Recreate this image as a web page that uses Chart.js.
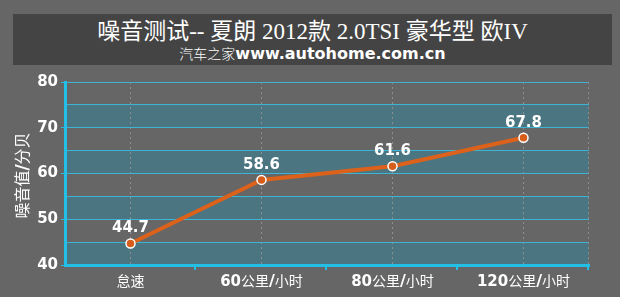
<!DOCTYPE html>
<html>
<head>
<meta charset="utf-8">
<script src="https://cdn.jsdelivr.net/npm/chart.js@4"></script>
<style>
  html, body { margin: 0; padding: 0; background: #666666; }
  #wrap { position: relative; width: 620px; height: 297px; }
  #head {
    position: absolute; left: 13px; top: 14px; width: 599px; height: 51px;
    background: #444444; color: #fff; text-align: center;
  }
  #head .t {
    font-family: "Liberation Serif", "Noto Sans CJK SC", serif;
    font-size: 23px; line-height: 26px; padding-top: 5px;
  }
  #head .s { line-height: 17px; }
  #head .s .cn { font-family: "Noto Sans CJK SC", sans-serif; font-size: 14px; font-weight: 300; }
  #head .s .url { font-family: "DejaVu Sans", sans-serif; font-weight: bold; font-size: 16px; }
  canvas { position: absolute; left: 0; top: 0; }
</style>
</head>
<body>
<div id="wrap">
  <canvas id="noiseChart" width="620" height="297"></canvas>
  <div id="head">
    <div class="t">噪音测试-- 夏朗 2012款 2.0TSI 豪华型 欧IV</div>
    <div class="s"><span class="cn">汽车之家</span><span class="url">www.autohome.com.cn</span></div>
  </div>
</div>
<script>
const speeds = ["怠速", "60", "80", "120"];
const speedUnit = "公里/小时";
const noise = [44.7, 58.6, 61.6, 67.8];
const yTicks = [40, 50, 60, 70, 80];

const ctx = document.getElementById("noiseChart").getContext("2d");

// draws text made of [text, font] pieces centred on cx
const drawParts = (ctx, parts, cx, base) => {
  let total = 0;
  parts.forEach((p) => { ctx.font = p[1]; total += ctx.measureText(p[0]).width; });
  let px = cx - total / 2;
  parts.forEach((p) => {
    ctx.font = p[1];
    ctx.fillText(p[0], px, base);
    px += ctx.measureText(p[0]).width;
  });
};

const fB = "bold 15px 'DejaVu Sans'";
const fN = "14px 'Noto Sans CJK SC'";

// shaded bands, custom labels
const decorPlugin = {
  id: "decor",
  beforeDraw(chart) {
    const { ctx, chartArea: a, scales: { y } } = chart;
    ctx.save();
    ctx.fillStyle = "#4b7681";
    yTicks.slice(0, -1).forEach((v) => {
      const top = y.getPixelForValue(v + 5);
      const bot = y.getPixelForValue(v);
      ctx.fillRect(a.left, top, a.right - a.left, bot - top);
    });
    ctx.restore();
  },
  beforeDatasetsDraw(chart) {
    const { ctx, chartArea: a } = chart;
    ctx.save();
    ctx.strokeStyle = "#8c8c8c";
    ctx.lineWidth = 1;
    ctx.setLineDash([2, 3]);
    ctx.beginPath();
    ctx.moveTo(a.right - 0.5, a.top);
    ctx.lineTo(a.right - 0.5, a.bottom);
    ctx.stroke();
    ctx.restore();
  },
  afterDraw(chart) {
    const { ctx, chartArea: a, scales: { x } } = chart;
    ctx.save();
    // tick marks between categories
    ctx.strokeStyle = "#22bfe6";
    ctx.lineWidth = 2;
    const w = (a.right - a.left) / speeds.length;
    for (let i = 1; i <= speeds.length; i++) {
      const px = Math.round(a.left + w * i) - 1;
      ctx.beginPath();
      ctx.moveTo(px, a.bottom);
      ctx.lineTo(px, a.bottom + 5);
      ctx.stroke();
    }
    ctx.fillStyle = "#ffffff";
    // x labels
    speeds.forEach((s, i) => {
      const cx = x.getPixelForValue(i);
      const parts = i === 0 ? [[s, fN]] : [[s, fB], ["公里", fN], ["/", "bold 16px 'DejaVu Sans'"], ["小时", fN]];
      drawParts(ctx, parts, cx, a.bottom + 21);
    });
    // y title
    ctx.save();
    ctx.translate(28, (a.top + a.bottom) / 2 + 2);
    ctx.rotate(-Math.PI / 2);
    const fT = "16px 'Noto Sans CJK SC'";
    drawParts(ctx, [["噪音值", fT], ["/", "bold 17px 'DejaVu Sans'"], ["分贝", fT]], 0, 0);
    ctx.restore();
    // value labels
    ctx.font = "bold 15px 'DejaVu Sans'";
    ctx.textAlign = "center";
    chart.getDatasetMeta(0).data.forEach((pt, i) => {
      ctx.fillText(noise[i].toFixed(1), pt.x, pt.y - 11);
    });
    ctx.restore();
  },
};

const noiseChart = new Chart(ctx, {
  type: "line",
  data: {
    labels: speeds.map((s, i) => (i === 0 ? s : s + speedUnit)),
    datasets: [
      {
        data: noise,
        borderColor: "#dc621c",
        borderWidth: 4,
        pointRadius: 4.5,
        pointBackgroundColor: "#d65e1a",
        pointBorderColor: "#ffffff",
        pointBorderWidth: 1.5,
        tension: 0,
      },
    ],
  },
  options: {
    responsive: false,
    animation: false,
    layout: { padding: { top: 82, right: 31, left: 0, bottom: 0 } },
    plugins: { legend: { display: false }, tooltip: { enabled: false } },
    scales: {
      x: {
        offset: true,
        afterFit: (scale) => { scale.height = 32; },
        grid: {
          offset: false,
          color: "#8f8f8f",
          lineWidth: 1,
          drawTicks: false,
        },
        border: { color: "#22bfe6", width: 3, dash: [2, 3] },
        ticks: { display: false },
      },
      y: {
        min: 40,
        max: 80,
        afterFit: (scale) => { scale.width = 65; },
        ticks: {
          stepSize: 5,
          color: "#ffffff",
          font: { family: "DejaVu Sans", weight: "bold", size: 15 },
          padding: 3,
          callback: (v) => (yTicks.includes(v) ? v : ""),
        },
        grid: {
          color: "#3fb3d4",
          lineWidth: 1,
          tickLength: 4,
          tickColor: (c) => (c.tick && yTicks.includes(c.tick.value) ? "#22bfe6" : "rgba(0,0,0,0)"),
        },
        border: { color: "#22bfe6", width: 3 },
      },
    },
  },
  plugins: [decorPlugin],
});
</script>
</body>
</html>
